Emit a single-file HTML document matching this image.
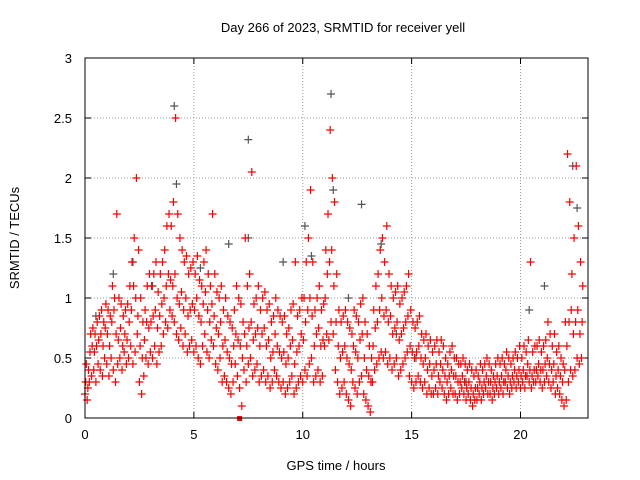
<!DOCTYPE html>
<html><head><meta charset="utf-8"><style>
body{margin:0;background:#fff}
svg{display:block;font-family:"Liberation Sans",sans-serif}
</style></head><body>
<svg id="chart" width="640" height="480" viewBox="0 0 640 480">
<rect width="640" height="480" fill="#fff"/>
<text x="343" y="32" font-size="13" text-anchor="middle">Day 266 of 2023, SRMTID for receiver yell</text>
<text transform="translate(19,238) rotate(-90)" font-size="13" text-anchor="middle">SRMTID / TECUs</text>
<text x="336" y="470" font-size="13" text-anchor="middle">GPS time / hours</text>
<g id="grid"></g>
<g id="ticks"></g>
<g id="marks"></g>
<rect x="85" y="58" width="503" height="360" fill="none" stroke="#000" stroke-width="1"/>
</svg>
<script>
const xTicks=[0,5,10,15,20];
const yTicks=[0,0.5,1,1.5,2,2.5,3];
const yTickLabels=["0","0.5","1","1.5","2","2.5","3"];
const step=0.1;
const loVals=[.2,.15,.3,.35,.4,.3,.45,.4,.35,.5,.45,.35,.5,.4,.3,.45,.5,.4,.55,.45,.5,.6,.45,.55,.7,.3,.2,.35,.5,.45,.55,.5,.6,.45,.55,.6,.7,.8,.75,.9,.85,.8,.7,.65,.75,.6,.7,.55,.6,.65,.55,.6,.5,.45,.6,.7,.55,.5,.65,.6,.45,.4,.5,.3,.35,.3,.25,.2,.3,.45,.35,.25,.1,.4,.3,.45,.5,.35,.4,.45,.3,.35,.4,.3,.35,.25,.3,.4,.35,.3,.25,.3,.2,.25,.3,.35,.2,.25,.3,.35,.3,.4,.35,.45,.5,.3,.35,.4,.3,.35,.6,.7,.65,.8,.7,.4,.3,.2,.25,.3,.2,.15,.1,.3,.25,.2,.3,.35,.2,.15,.1,.05,.3,.4,.45,.5,.55,.5,.55,.45,.5,.4,.45,.5,.35,.4,.45,.5,.55,.35,.3,.25,.3,.35,.3,.25,.3,.2,.25,.2,.2,.25,.2,.3,.25,.2,.15,.2,.25,.2,.2,.15,.2,.25,.2,.15,.2,.15,.1,.15,.15,.2,.15,.2,.25,.2,.2,.15,.2,.25,.2,.25,.2,.3,.25,.2,.25,.3,.25,.3,.25,.3,.25,.35,.3,.25,.3,.3,.35,.3,.25,.3,.35,.3,.25,.3,.2,.25,.2,.15,.1,.15,.3,.4,.35,.4,.5,.45,.5];
const midVals=[.3,.25,.55,.6,.55,.6,.65,.7,.6,.75,.7,.6,.8,.9,.7,.65,.75,.6,.7,.65,.8,.9,1.1,1.0,.85,.6,.5,.65,.8,.75,.8,.85,.9,.75,.85,.95,1.0,1.1,1.2,1.15,1.1,1.2,1.0,.95,1.05,.9,1.0,.85,.9,.95,.9,1.0,.85,.8,.95,1.05,.9,.8,.95,.85,.75,.7,.8,.6,.65,.55,.5,.45,.6,.7,.65,.6,.5,.7,.6,.75,.8,.65,.7,.75,.6,.7,.75,.6,.65,.5,.55,.7,.6,.55,.5,.55,.45,.5,.6,.65,.45,.55,.6,.7,.65,.8,.9,1.0,.85,.6,.7,.75,.6,.65,1.0,1.2,1.3,1.4,1.1,.8,.6,.5,.55,.6,.5,.45,.4,.6,.55,.5,.65,.7,.5,.4,.35,.3,.6,.75,.8,.9,1.0,.85,.9,.8,.85,.7,.75,.8,.65,.7,.75,.8,.85,.6,.55,.5,.55,.6,.5,.45,.5,.4,.45,.35,.4,.45,.35,.45,.4,.35,.3,.35,.4,.35,.35,.3,.3,.35,.3,.25,.3,.25,.2,.25,.25,.3,.25,.3,.35,.3,.3,.25,.3,.35,.3,.35,.3,.4,.35,.3,.35,.4,.35,.4,.35,.4,.35,.45,.4,.35,.4,.4,.45,.4,.4,.45,.5,.45,.4,.45,.35,.4,.35,.3,.4,.6,.8,.9,.7,.8,.9,.7,.8];
const hiVals=[.45,.4,.7,.75,.7,.8,.85,.9,.8,.95,.9,.85,1.1,1.0,1.7,1.0,.95,.85,.9,.95,1.1,1.3,1.5,2.0,1.4,1.0,.8,.9,1.1,1.2,1.1,1.2,1.3,1.05,1.2,1.3,1.4,1.6,1.7,1.6,1.8,2.5,1.7,1.5,1.4,1.3,1.35,1.2,1.25,1.3,1.2,1.35,1.15,1.1,1.3,1.4,1.2,1.1,1.7,1.2,1.05,1.0,1.1,.9,1.0,.85,.8,.75,.9,1.1,1.0,.95,.8,1.5,1.1,1.2,2.05,.95,1.0,1.1,.9,1.0,1.05,.9,.95,.8,.85,1.0,.9,.85,.8,.85,.7,.75,.9,.95,1.3,.85,.9,1.0,1.0,1.3,1.5,1.9,1.3,.9,1.0,1.1,.9,.95,1.4,1.7,2.4,2.0,1.8,1.2,.9,.8,.85,.9,.8,.75,.7,.9,.85,.8,.95,1.0,.8,.7,.6,.5,.9,1.1,1.2,1.4,1.5,1.3,1.6,1.2,1.1,1.0,1.05,1.1,.95,1.0,1.05,1.1,1.2,.9,.8,.75,.8,.85,.7,.65,.7,.6,.65,.55,.6,.65,.55,.65,.6,.5,.45,.55,.6,.5,.5,.45,.45,.5,.45,.4,.45,.4,.35,.4,.35,.45,.4,.45,.5,.45,.4,.35,.45,.5,.45,.5,.45,.55,.5,.45,.5,.55,.5,.6,.5,.6,.55,.65,1.3,.55,.6,.6,.65,.55,.6,.65,.8,.7,.6,.7,.55,.6,.5,.45,.8,2.2,1.8,1.2,1.5,2.1,1.6,1.3,1.1];
const grayTimes=[0.5,1.3,2.2,3.1,4.1,4.2,5.3,6.6,7.5,7.5,9.1,10.1,10.4,11.3,11.4,12.1,12.7,13.6,14.3,15.2,17.5,20.4,21.1,22.4,22.6];
const grayVals=[.85,1.2,1.3,1.1,2.6,1.95,1.25,1.45,2.32,1.5,1.3,1.6,1.35,2.7,1.9,1.0,1.78,1.45,.7,.5,.3,.9,1.1,2.1,1.75];
const NS="http://www.w3.org/2000/svg";
const X0=85,X1=588,Y0=418,Y1=58,XMAX=23.1,YMAX=3;
function sx(t){return X0+(t/XMAX)*(X1-X0);}
function sy(v){return Y0-(v/YMAX)*(Y0-Y1);}
const grid=document.getElementById('grid'),ticks=document.getElementById('ticks'),marks=document.getElementById('marks');
function mk(tag,attrs,parent){const e=document.createElementNS(NS,tag);for(const k in attrs)e.setAttribute(k,attrs[k]);parent.appendChild(e);return e;}
yTicks.forEach((v,i)=>{
  const y=sy(v);
  if(i>0&&i<yTicks.length-1){const g=mk('line',{x1:X0,x2:X1,y1:y,y2:y,stroke:'#999','stroke-dasharray':'1,2'},grid);
  
  }
  const t=mk('text',{x:72,y:y+5,'font-size':13,'text-anchor':'end'},ticks);t.textContent=yTickLabels[i];
  
  
  mk('line',{x1:X0,x2:X0+6,y1:y,y2:y,stroke:'#000'},ticks);
  mk('line',{x1:X1,x2:X1-6,y1:y,y2:y,stroke:'#000'},ticks);
});
xTicks.forEach(v=>{
  const x=sx(v);
  if(v>0){const g=mk('line',{x1:x,x2:x,y1:Y0,y2:Y1,stroke:'#999','stroke-dasharray':'1,2'},grid);
  
  }
  const t=mk('text',{x:x,y:Y0+21,'font-size':13,'text-anchor':'middle'},ticks);t.textContent=String(v);
  
  
  mk('line',{x1:x,x2:x,y1:Y0,y2:Y0-6,stroke:'#000'},ticks);
  mk('line',{x1:x,x2:x,y1:Y1,y2:Y1+6,stroke:'#000'},ticks);
});
function plus(t,v,color){
  const x=sx(t),y=sy(v);
  const p=mk('path',{d:`M${x-4},${y}h8M${x},${y-4}v8`,stroke:color,'stroke-width':1.2,fill:'none'},marks);
  
  
}
grayTimes.forEach((t,i)=>plus(t,grayVals[i],'#555'));
[loVals,midVals,hiVals].forEach((arr,k)=>arr.forEach((v,i)=>{
  plus(i*step+k*0.03,v,'#f00');
}));
const sq=mk('rect',{x:sx(7.1)-2.5,y:Y0-2,width:5,height:5,fill:'#f00'},marks);


</script>
</body></html>
